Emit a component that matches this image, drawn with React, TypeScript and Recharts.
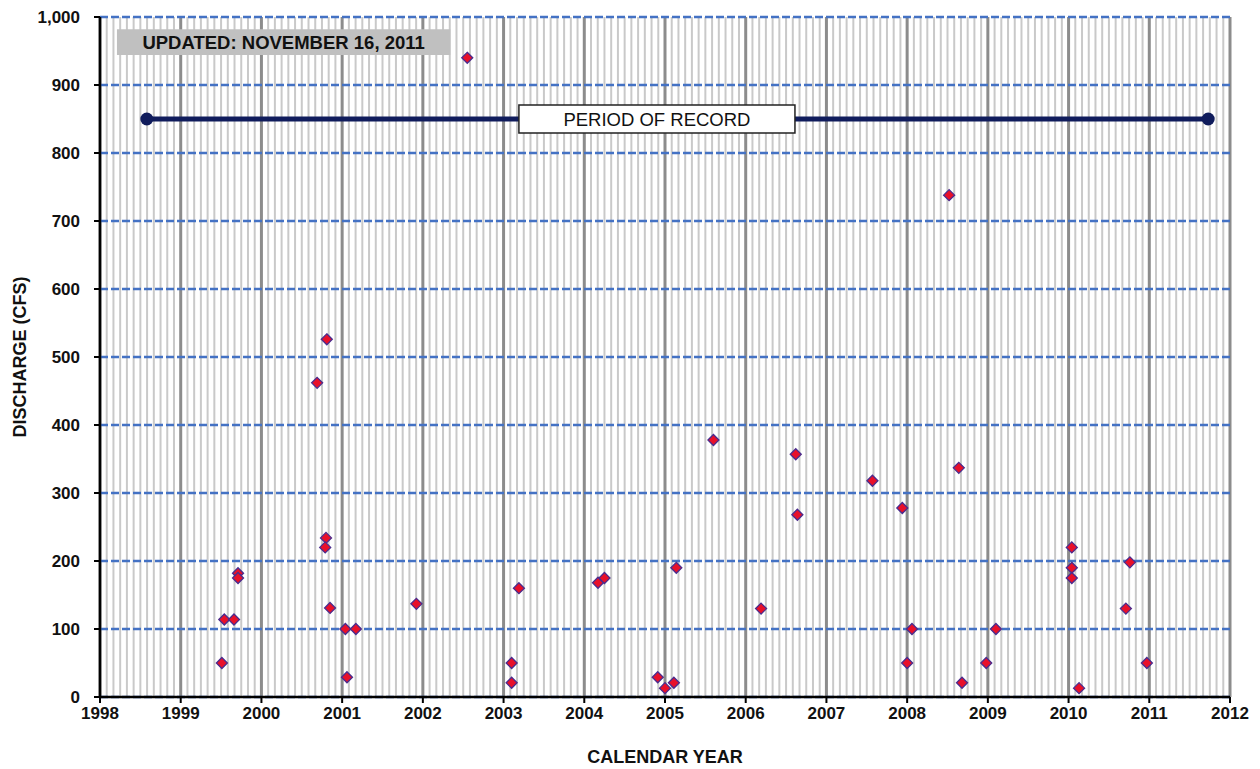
import {
  ScatterChart,
  Scatter,
  XAxis,
  YAxis,
  CartesianGrid,
  ReferenceArea,
  ReferenceLine,
} from "recharts";

// measurement dates (decimal year) and discharge in cfs
const sampleYears = [
  1999.51, 1999.54, 1999.66, 1999.71, 1999.71, 2000.69, 2000.81, 2000.8, 2000.79,
  2000.85, 2001.04, 2001.17, 2001.06, 2001.92, 2002.55, 2003.1, 2003.1, 2003.19,
  2004.17, 2004.25, 2004.91, 2005.0, 2005.11, 2005.14, 2005.6, 2006.19, 2006.62,
  2006.64, 2007.57, 2007.94, 2008.0, 2008.06, 2008.52, 2008.64, 2008.68, 2008.98,
  2009.1, 2010.04, 2010.04, 2010.04, 2010.13, 2010.71, 2010.76, 2010.97,
];
const sampleCfs = [
  50, 114, 114, 182, 175, 462, 526, 234, 220, 131, 100, 100, 29, 137, 940, 50, 21,
  160, 168, 175, 29, 13, 21, 190, 378, 130, 357, 268, 318, 278, 50, 100, 738, 337,
  21, 50, 100, 220, 190, 175, 13, 130, 198, 50,
];

const periodYears = [1998.58, 2011.73];
const periodCfs = [850, 850];

const yearTicks = [1998, 1999, 2000, 2001, 2002, 2003, 2004, 2005, 2006, 2007, 2008, 2009, 2010, 2011, 2012];
const cfsTicks = [0, 100, 200, 300, 400, 500, 600, 700, 800, 900, 1000];

// monthly grid lines
const monthTicks: number[] = [];
yearTicks.slice(0, -1).forEach((y) => {
  for (let m = 1; m < 12; m++) monthTicks.push(y + m / 12);
});

const samples = sampleYears.map((x, i) => ({ x, y: sampleCfs[i] }));
const period = periodYears.map((x, i) => ({ x, y: periodCfs[i] }));

const FONT = "'Liberation Sans', Arial, sans-serif";

function Diamond(props: any) {
  const { cx, cy } = props;
  const r = 5.5;
  return (
    <polygon
      points={`${cx},${cy - r} ${cx + r},${cy} ${cx},${cy + r} ${cx - r},${cy}`}
      fill="#e8102a"
      stroke="#4a2c8e"
      strokeWidth={1.3}
    />
  );
}

function EndDot(props: any) {
  return <circle cx={props.cx} cy={props.cy} r={6.5} fill="#101c5c" />;
}

const tickStyle = { fontSize: 17, fontWeight: 700, fill: "#111", fontFamily: FONT };

export default function App() {
  return (
    <div style={{ position: "absolute", left: 0, top: 0, background: "#fff" }}>
      <ScatterChart
        width={1260}
        height={769}
        margin={{ top: 17, right: 30, bottom: 0, left: 0 }}
        style={{ fontFamily: FONT }}
      >
        {monthTicks.map((t) => (
          <ReferenceLine key={t} x={t} stroke="#c9c9c9" strokeWidth={2} zIndex={-150} />
        ))}
        <CartesianGrid horizontal={false} stroke="#8c8c8c" strokeWidth={3} />
        <CartesianGrid vertical={false} stroke="#4472c4" strokeWidth={2.6} strokeDasharray="8 3" />
        <XAxis
          type="number"
          dataKey="x"
          domain={[1998, 2012]}
          ticks={yearTicks}
          height={72}
          tick={tickStyle}
          tickSize={6}
          tickMargin={4}
          axisLine={{ stroke: "#000", strokeWidth: 2.5 }}
          tickLine={{ stroke: "#000", strokeWidth: 2 }}
          label={{
            value: "CALENDAR YEAR",
            position: "insideBottom",
            offset: 6,
            style: { fontSize: 18, fontWeight: 700, fill: "#111", fontFamily: FONT },
          }}
        />
        <YAxis
          type="number"
          dataKey="y"
          domain={[0, 1000]}
          ticks={cfsTicks}
          width={100}
          tick={tickStyle}
          tickSize={6}
          tickMargin={14}
          tickFormatter={(v: number) => v.toLocaleString("en-US")}
          axisLine={{ stroke: "#000", strokeWidth: 2.5 }}
          tickLine={{ stroke: "#000", strokeWidth: 2 }}
          label={{
            value: "DISCHARGE (CFS)",
            angle: -90,
            position: "insideLeft",
            offset: 20,
            style: { textAnchor: "middle", fontSize: 18, fontWeight: 700, fill: "#111", fontFamily: FONT },
          }}
        />
        <Scatter
          data={period}
          line={{ stroke: "#101c5c", strokeWidth: 5 }}
          lineType="joint"
          shape={EndDot}
          isAnimationActive={false}
        />
        <Scatter data={samples} shape={Diamond} isAnimationActive={false} />
        <ReferenceArea
          x1={1998.21}
          x2={2002.34}
          y1={944}
          y2={982}
          fill="#c0c0c0"
          fillOpacity={1}
          stroke="none"
          zIndex={700}
          label={{
            value: "UPDATED: NOVEMBER 16, 2011",
            position: "center",
            style: { fontSize: 18.5, fontWeight: 700, fill: "#111", fontFamily: FONT },
          }}
        />
        <ReferenceArea
          x1={2003.19}
          x2={2006.61}
          y1={829.5}
          y2={870.5}
          fill="#fff"
          fillOpacity={1}
          stroke="#222"
          strokeWidth={1.5}
          zIndex={700}
          label={{
            value: "PERIOD OF RECORD",
            position: "center",
            style: { fontSize: 18.5, fontWeight: 400, fill: "#111", fontFamily: FONT },
          }}
        />
      </ScatterChart>
    </div>
  );
}
